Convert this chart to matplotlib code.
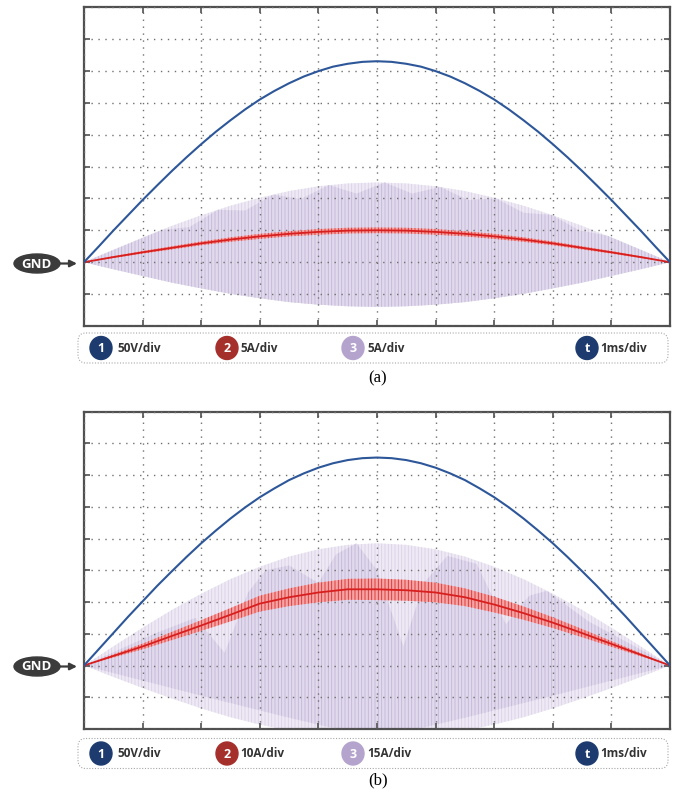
import numpy as np
import matplotlib
matplotlib.use('Agg')
import matplotlib.pyplot as plt
from matplotlib.patches import Ellipse, FancyBboxPatch

plt.rcParams['hatch.linewidth'] = 0.6

# time axis in divisions (1 ms/div)
t = np.arange(0, 10.5, 0.5)       # every half division
t_fine = np.arange(0, 10.25, 0.25)  # every quarter division (voltage traces)

# ---- panel (a) traces, in divisions above GND ----
blue_a = [0, 0.49, 0.99, 1.47, 1.95, 2.41, 2.86, 3.29, 3.70, 4.09, 4.45,
          4.79, 5.10, 5.37, 5.61, 5.82, 5.99, 6.13, 6.22, 6.28, 6.30,
          6.28, 6.22, 6.13, 5.99, 5.82, 5.61, 5.37, 5.10, 4.79, 4.45,
          4.09, 3.70, 3.29, 2.86, 2.41, 1.95, 1.47, 0.99, 0.49, 0]
red_a = [0, 0.16, 0.31, 0.45, 0.59, 0.71, 0.81, 0.89, 0.95, 0.99, 1.00,
         0.99, 0.95, 0.89, 0.81, 0.71, 0.59, 0.45, 0.31, 0.16, 0]
red_a_ripple = [0, 0.03, 0.04, 0.05, 0.06, 0.07, 0.08, 0.08, 0.09, 0.09, 0.09,
                0.09, 0.09, 0.08, 0.08, 0.07, 0.06, 0.05, 0.04, 0.03, 0]
purple_a_top = [0, 0.39, 0.77, 1.14, 1.47, 1.77, 2.02, 2.23, 2.38, 2.47, 2.50,
                2.47, 2.38, 2.23, 2.02, 1.77, 1.47, 1.14, 0.77, 0.39, 0]
purple_a_bot = [0, -0.22, -0.43, -0.64, -0.82, -0.99, -1.13, -1.25, -1.33, -1.38, -1.40,
                -1.38, -1.33, -1.25, -1.13, -0.99, -0.82, -0.64, -0.43, -0.22, 0]
# denser part of trace 3 (scalloped top)
inner_a_t = [0, 1.33, 1.8, 2.28, 2.75, 3.23, 3.7, 4.18, 4.65, 5.13, 5.6, 6.08,
             6.55, 7.03, 7.5, 7.98, 8.45, 8.93, 10]
inner_a_v = [0, 1.01, 1.10, 1.64, 1.62, 2.12, 1.98, 2.42, 2.15, 2.50, 2.15, 2.36,
             1.95, 2.00, 1.55, 1.48, 1.00, 0.83, 0]

# ---- panel (b) traces ----
blue_b = [0, 0.51, 1.02, 1.53, 2.02, 2.51, 2.97, 3.42, 3.85, 4.25, 4.63,
          4.98, 5.30, 5.58, 5.84, 6.05, 6.23, 6.37, 6.47, 6.53, 6.55,
          6.53, 6.47, 6.37, 6.23, 6.05, 5.84, 5.58, 5.30, 4.98, 4.63,
          4.25, 3.85, 3.42, 2.97, 2.51, 2.02, 1.53, 1.02, 0.51, 0]
red_b = [0, 0.30, 0.60, 0.93, 1.26, 1.60, 1.95, 2.15, 2.30, 2.40, 2.40,
         2.37, 2.30, 2.15, 1.92, 1.65, 1.35, 1.02, 0.68, 0.34, 0]
red_b_ripple = [0, 0.05, 0.09, 0.13, 0.17, 0.21, 0.25, 0.28, 0.31, 0.33, 0.34,
                0.33, 0.31, 0.28, 0.25, 0.21, 0.17, 0.13, 0.09, 0.05, 0]
purple_b_top = [0, 0.60, 1.19, 1.75, 2.26, 2.72, 3.11, 3.43, 3.66, 3.80, 3.85,
                3.80, 3.66, 3.43, 3.11, 2.72, 2.26, 1.75, 1.19, 0.60, 0]
purple_b_bot = [0, -0.36, -0.71, -1.04, -1.35, -1.63, -1.86, -2.05, -2.19, -2.27, -2.30,
                -2.27, -2.19, -2.05, -1.86, -1.63, -1.35, -1.04, -0.71, -0.36, 0]
inner_b_t = [0, 1.2, 1.9, 2.4, 2.8, 3.1, 3.5, 4.0, 4.3, 4.65, 5.0, 5.45,
             5.8, 6.2, 6.7, 7.2, 7.6, 7.9, 8.6, 10]
inner_b_v = [0, 1.0, 1.5, 0.4, 2.3, 3.0, 3.15, 2.6, 3.5, 3.85, 3.0, 0.6,
             2.6, 3.45, 3.2, 1.3, 2.2, 2.35, 1.4, 0]
inner_b_low_t = [0, 2, 3.4, 4.2, 5, 5.8, 6.6, 8, 10]
inner_b_low_v = [0, -0.95, -1.6, -1.95, -2.1, -1.95, -1.6, -0.95, 0]

legend_a = ['50V/div', '5A/div', '5A/div', '1ms/div']
legend_b = ['50V/div', '10A/div', '15A/div', '1ms/div']
badges = ['1', '2', '3', 't']
badge_colors = ['#1d3b6e', '#a5302b', '#b4a3cd', '#1d3b6e']

W, H = 678, 793
fig = plt.figure(figsize=(W / 100, H / 100), dpi=100)


def scope(box, blue, red, ripple, ptop, pbot, in_t, in_v, low_t=None, low_v=None):
    ax = fig.add_axes(box)
    ax.set_xlim(0, 10)
    ax.set_ylim(-2, 8)
    ax.set_xticks(range(11))
    ax.set_yticks(range(-2, 9))
    ax.tick_params(direction='in', length=4, width=1.2, color='#505050',
                   top=True, right=True, labelleft=False, labelbottom=False)
    ax.grid(True, color='#707070', linestyle=(0, (1, 4)), linewidth=1.0)
    ax.set_axisbelow(False)
    for s in ax.spines.values():
        s.set_color('#505050')
        s.set_linewidth(1.6)

    # trace 3: switching current, light outer part
    ax.fill_between(t, pbot, ptop, facecolor='#eee9f4', edgecolor='#d9d1e6',
                    hatch='|||||', linewidth=0, zorder=1)
    # denser inner part
    if low_t is None:
        low_t, low_v = list(t), list(pbot)
    px = list(in_t) + list(low_t)[::-1]
    py = list(in_v) + list(low_v)[::-1]
    ax.fill(px, py, facecolor='#e1daec', edgecolor='#c2b5d7',
            hatch='|||||', linewidth=0, zorder=1.2)

    # trace 2
    red = np.array(red)
    rp = np.array(ripple)
    ax.fill_between(t, red - rp, red + rp, facecolor='#f4a4a4', edgecolor='#e02a2a',
                    hatch='|||||', linewidth=0, zorder=3)
    ax.plot(t, red, color='#d81f1f', lw=1.3, zorder=3.2)

    # trace 1
    ax.plot(t_fine, blue, color='#2d5799', lw=1.5, zorder=3.4)
    return ax


ax_a = scope([84 / W, 1 - 326 / H, 586 / W, 319 / H], blue_a, red_a, red_a_ripple,
             purple_a_top, purple_a_bot, inner_a_t, inner_a_v)
ax_b = scope([84 / W, 1 - 729 / H, 586 / W, 317.5 / H], blue_b, red_b, red_b_ripple,
             purple_b_top, purple_b_bot, inner_b_t, inner_b_v, inner_b_low_t, inner_b_low_v)

# overlay in pixel coordinates for markers, legends and captions
ov = fig.add_axes([0, 0, 1, 1], zorder=10)
ov.set_xlim(0, W)
ov.set_ylim(H, 0)
ov.axis('off')
ov.patch.set_visible(False)


def gnd(y):
    ov.add_patch(Ellipse((37, y), 46, 19, color='#3b3b3b'))
    ov.text(36, y + 0.5, 'GND', color='white', fontsize=9.5, fontweight='bold',
            family='Open Sans', ha='center', va='center')
    ov.annotate('', xy=(77, y), xytext=(58, y),
                arrowprops=dict(arrowstyle='-|>', color='#3b3b3b', lw=1.6,
                                mutation_scale=10, shrinkA=0, shrinkB=0))


def legend(yc, labels):
    ov.add_patch(FancyBboxPatch((78, yc - 15), 590, 30,
                                boxstyle='round,pad=0,rounding_size=8',
                                facecolor='white', edgecolor='#a8a8a8',
                                linestyle=(0, (1, 1.5)), linewidth=0.8))
    for cx, tx, b, c, lab in zip([101, 227, 353, 587], [117, 240, 367, 600],
                                 badges, badge_colors, labels):
        ov.add_patch(Ellipse((cx, yc), 22, 23, color=c))
        ov.text(cx, yc + 0.5, b, color='white', fontsize=9, fontweight='bold',
                family='Open Sans', ha='center', va='center')
        ov.text(tx, yc, lab, color='#333333', fontsize=8.5, fontweight='bold',
                family='Open Sans', ha='left', va='center')


gnd(263.5)
gnd(666.5)
legend(348, legend_a)
legend(753.5, legend_b)
ov.text(378, 378, '(a)', fontsize=12, family='Liberation Serif', ha='center', va='center')
ov.text(378, 780, '(b)', fontsize=12, family='Liberation Serif', ha='center', va='center')

fig.savefig('out.png', dpi=100)
